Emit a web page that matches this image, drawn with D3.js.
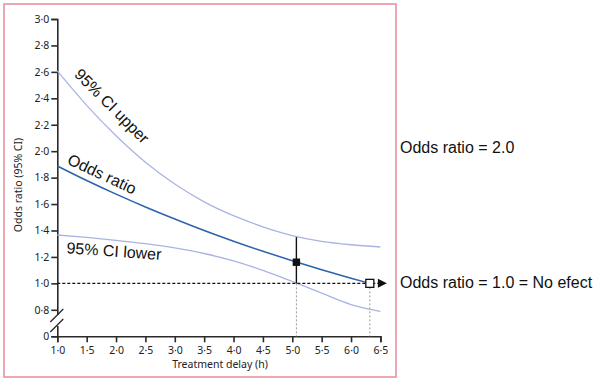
<!DOCTYPE html>
<html><head><meta charset="utf-8">
<script src="https://cdn.jsdelivr.net/npm/d3@7"></script>
<style>
html,body{margin:0;padding:0;background:#fff;}
svg{display:block;}
</style></head>
<body>
<svg id="c" width="600" height="381"></svg>
<script>
// ---- data ----
const delays = [1.0, 1.5, 2.0, 2.5, 3.0, 3.5, 4.0, 4.5, 5.0, 5.5, 6.0, 6.5];
const ciUpper = [2.607, 2.347, 2.117, 1.917, 1.752, 1.617, 1.512, 1.428, 1.362, 1.318, 1.292, 1.275];
const ciLower = [1.366, 1.348, 1.326, 1.300, 1.268, 1.226, 1.170, 1.098, 1.014, 0.926, 0.840, 0.754];
const orDelays = [1.0, 1.5, 2.0, 2.5, 3.0, 3.5, 4.0, 4.5, 5.0, 5.5, 6.0, 6.32];
const oddsRatio = [1.888, 1.778, 1.675, 1.578, 1.487, 1.400, 1.319, 1.243, 1.171, 1.103, 1.039, 1.0];
const xTicks = [1.0, 1.5, 2.0, 2.5, 3.0, 3.5, 4.0, 4.5, 5.0, 5.5, 6.0, 6.5];
const yTicks = [0, 0.8, 1.0, 1.2, 1.4, 1.6, 1.8, 2.0, 2.2, 2.4, 2.6, 2.8, 3.0];
const estimate = {delay: 5.07, or: 1.16, upper: 1.35, lower: 1.0};
const noEffect = {delay: 6.32, or: 1.0};
const arrowEnd = 6.61;

const svg = d3.select("#c");
const x = d3.scaleLinear().domain([1.0, 6.5]).range([57.3, 380.4]);
const y = d3.scaleLinear().domain([0, 0.8, 3.0]).range([336.3, 309.8, 19]);
const fmt = d => d === 0 ? "0" : d3.format(".1f")(d).replace(".", "\u00B7");

// border
svg.append("rect").attr("x", 4).attr("y", 4).attr("width", 392).attr("height", 373)
  .attr("fill", "none").attr("stroke", "#e68a9a").attr("stroke-width", 1.5);

// axes
const gx = svg.append("g").attr("transform", `translate(0,${y(0)})`)
  .call(d3.axisBottom(x).tickValues(xTicks).tickFormat(fmt).tickSizeOuter(0).tickSize(6).tickPadding(4));
const gy = svg.append("g").attr("transform", `translate(${x(1.0)},0)`)
  .call(d3.axisLeft(y).tickValues(yTicks).tickFormat(fmt).tickSizeOuter(0).tickSize(6).tickPadding(2));
[gx, gy].forEach(g => {
  g.selectAll(".domain, line").attr("stroke", "#2a2a2a").attr("stroke-width", 1.6);
  g.selectAll("text").attr("fill", "#222").style("font-family", "'Noto Sans', sans-serif")
    .style("font-size", "10.5px");
});

// axis break
svg.append("rect").attr("x", x(1.0) - 2).attr("y", 315).attr("width", 4).attr("height", 11).attr("fill", "#fff");
[0, 10].forEach(off => {
  svg.append("line").attr("x1", x(1.0) - 7).attr("y1", 322 + off).attr("x2", x(1.0) + 6).attr("y2", 309 + off)
    .attr("stroke", "#2a2a2a").attr("stroke-width", 1.3);
});

// axis titles
svg.append("text").attr("x", 220).attr("y", 368).attr("text-anchor", "middle")
  .style("font-family", "'Noto Sans', sans-serif").style("font-size", "10.5px").attr("fill", "#222")
  .text("Treatment delay (h)");
svg.append("text").attr("transform", "translate(22,185) rotate(-90)").attr("text-anchor", "middle")
  .style("font-family", "'Noto Sans', sans-serif").style("font-size", "10.5px").attr("fill", "#222")
  .text("Odds ratio (95% CI)");

// reference dashed verticals
[estimate.delay, noEffect.delay].forEach(d => {
  svg.append("line").attr("x1", x(d)).attr("x2", x(d)).attr("y1", y(1.0)).attr("y2", y(0))
    .attr("stroke", "#999").attr("stroke-width", 1).attr("stroke-dasharray", "2,2");
});

// CI curves
const lineUp = d3.line().x((d, i) => x(delays[i])).y(d => y(d)).curve(d3.curveMonotoneX);
svg.append("path").attr("d", lineUp(ciUpper)).attr("fill", "none").attr("stroke", "#aab4e2").attr("stroke-width", 1.3);
svg.append("path").attr("d", lineUp(ciLower)).attr("fill", "none").attr("stroke", "#aab4e2").attr("stroke-width", 1.3);

// no-effect line with arrow
svg.append("line").attr("x1", x(1.0)).attr("x2", x(arrowEnd) - 8).attr("y1", y(1.0)).attr("y2", y(1.0))
  .attr("stroke", "#111").attr("stroke-width", 1.2).attr("stroke-dasharray", "3,2");
svg.append("path")
  .attr("d", `M${x(arrowEnd)},${y(1.0)} L${x(arrowEnd) - 9},${y(1.0) - 4.5} L${x(arrowEnd) - 9},${y(1.0) + 4.5} Z`)
  .attr("fill", "#111");

// odds ratio line
const lineOr = d3.line().x((d, i) => x(orDelays[i])).y(d => y(d)).curve(d3.curveMonotoneX);
svg.append("path").attr("d", lineOr(oddsRatio)).attr("fill", "none").attr("stroke", "#2b63ad").attr("stroke-width", 1.5);

// estimate CI bar and markers
svg.append("line").attr("x1", x(estimate.delay)).attr("x2", x(estimate.delay))
  .attr("y1", y(estimate.upper)).attr("y2", y(estimate.lower)).attr("stroke", "#111").attr("stroke-width", 1.4);
svg.append("rect").attr("x", x(estimate.delay) - 3.7).attr("y", y(estimate.or) - 3.7).attr("width", 7.4).attr("height", 7.4)
  .attr("fill", "#111");
svg.append("rect").attr("x", x(noEffect.delay) - 4).attr("y", y(noEffect.or) - 4).attr("width", 8).attr("height", 8)
  .attr("fill", "#fff").attr("stroke", "#111").attr("stroke-width", 1.3);

// in-plot labels
const lab = (t, cx, cy, rot) => svg.append("text").attr("transform", `translate(${cx},${cy}) rotate(${rot})`)
  .attr("text-anchor", "middle").attr("dy", "0.35em")
  .style("font-family", "'Liberation Sans', Arial, sans-serif").style("font-size", "16px").attr("fill", "#111").text(t);
lab("95% CI upper", 112, 106, 45);
lab("Odds ratio", 102, 174, 25);
lab("95% CI lower", 114, 251, 4);

// right-side notes
const note = (t, yy) => svg.append("text").attr("x", 400).attr("y", yy)
  .style("font-family", "'Liberation Sans', Arial, sans-serif").style("font-size", "16px").attr("fill", "#111").text(t);
note("Odds ratio = 2.0", 153);
note("Odds ratio = 1.0 = No efect", 287.5);
</script>
</body></html>
